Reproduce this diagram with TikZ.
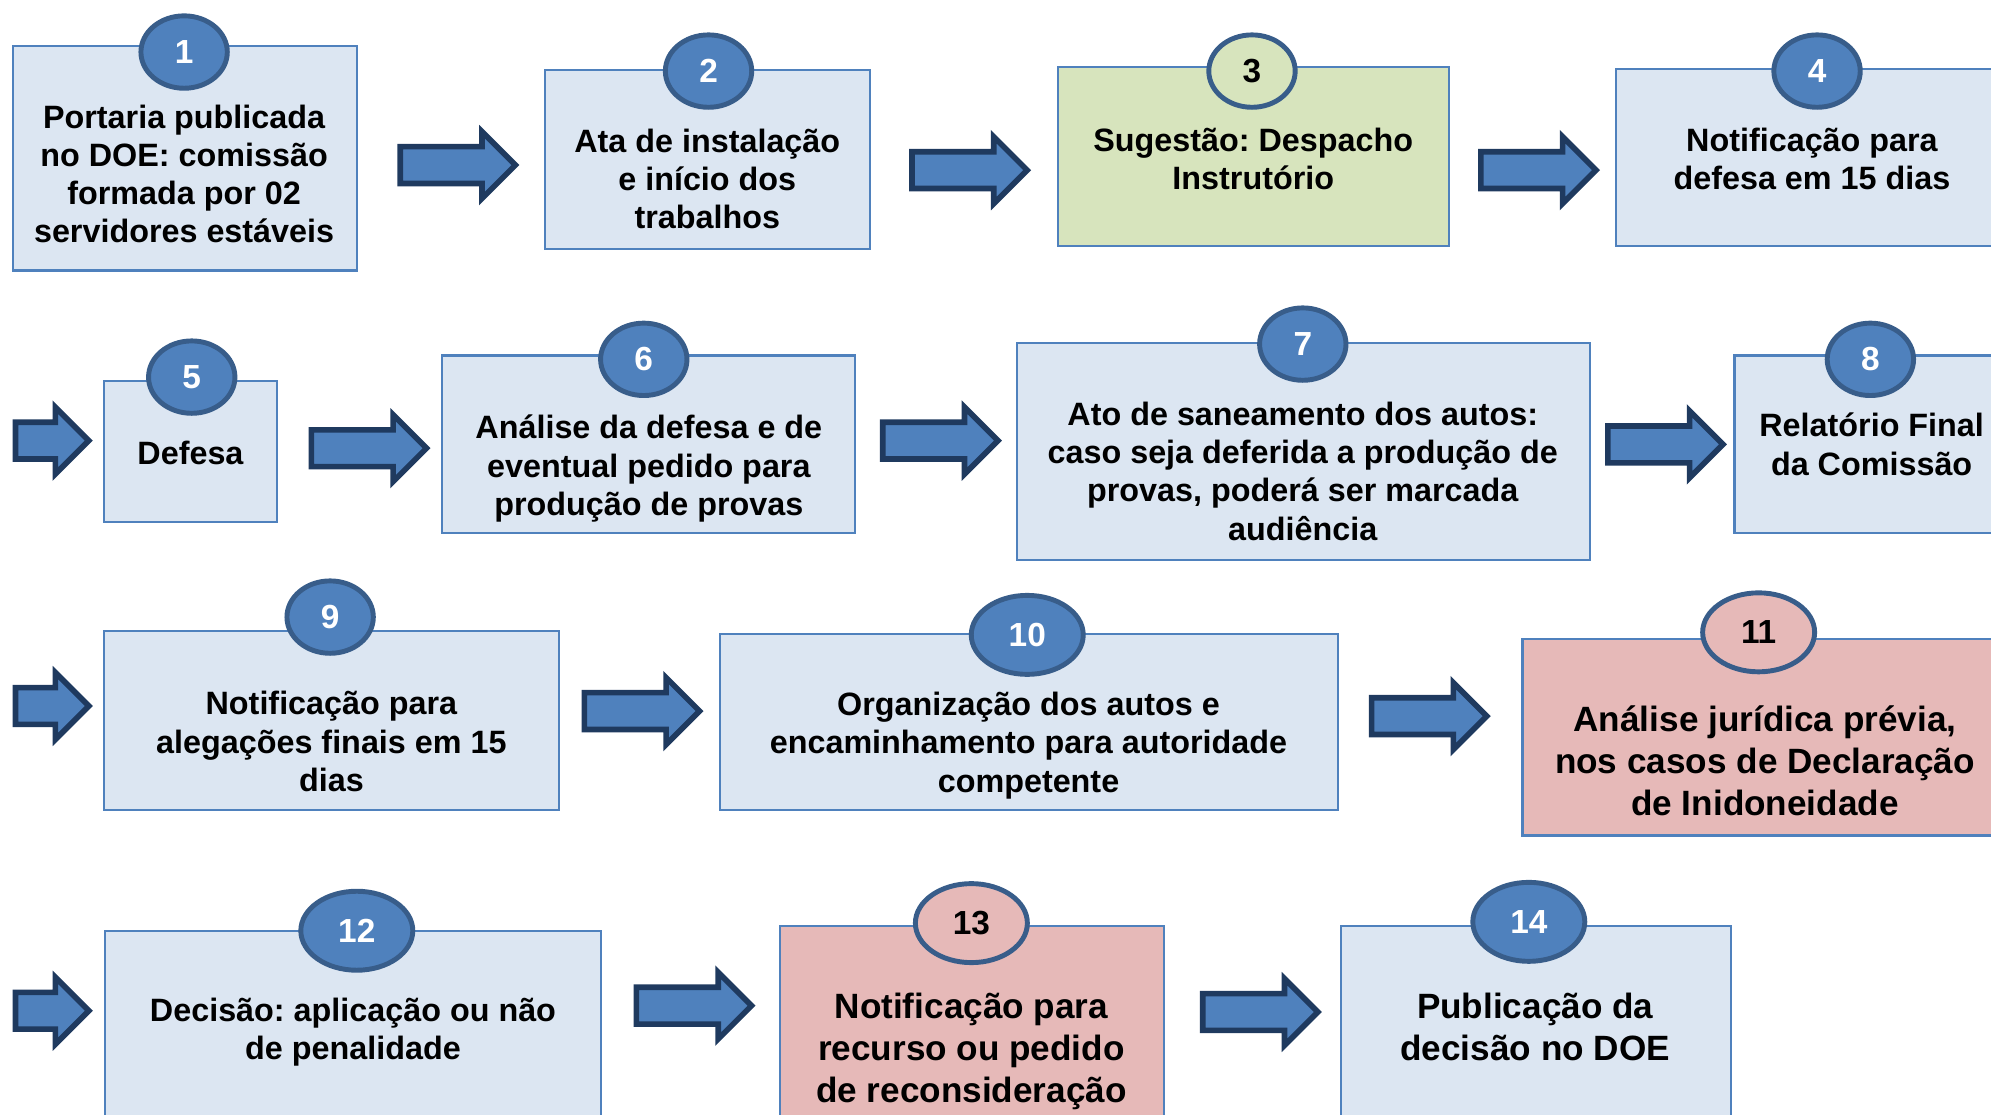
\documentclass[tikz,border=0pt]{standalone}
\usepackage{fontspec}
\setmainfont{Liberation Sans}
\usepackage{xcolor}
\usepackage{tikz}
\usetikzlibrary{shapes.geometric, shapes.arrows, fit, positioning}
\frenchspacing

\definecolor{azulclaro}{HTML}{DCE6F2}
\definecolor{borda}{HTML}{4F81BD}
\definecolor{verde}{HTML}{D7E4BD}
\definecolor{rosa}{HTML}{E6B9B8}
\definecolor{azul}{HTML}{4F81BD}
\definecolor{azulescuro}{HTML}{385D8A}
\definecolor{marinho}{HTML}{1F3A5F}

\begin{document}
\begin{tikzpicture}[x=0.127mm, y=-0.127mm]
  \tikzstyle{caixa}=[draw=borda, fill=azulclaro, line width=0.6pt, inner sep=0]
  \tikzstyle{num}=[ellipse, draw=azulescuro, fill=azul, line width=1.4pt, inner sep=0,
    minimum width=8.64mm, minimum height=7.24mm, text=white,
    font=\fontsize{9.5}{11}\selectfont\bfseries]
  \tikzstyle{numdois}=[num, minimum width=11.2mm, minimum height=7.9mm]
  \tikzstyle{texto}=[align=center, inner sep=0, font=\fontsize{9.2}{10.9}\selectfont\bfseries]
  \tikzstyle{textogrande}=[texto, font=\fontsize{10}{11.9}\selectfont\bfseries]
  \tikzstyle{seta}=[single arrow, draw=marinho, fill=azul, line width=1.6pt,
    inner xsep=0, inner ysep=1.56mm, single arrow head extend=1.5mm,
    minimum height=11.52mm, anchor=tail]
  \tikzstyle{setacurta}=[seta, minimum height=7.33mm]

  \useasboundingbox (0,0) rectangle (1568,878);

  % caixas
  \node[caixa, fit={(10,36) (281,213)}] (1) {};
  \node[caixa, fit={(429,55) (685,196)}] (2) {};
  \node[caixa, fill=verde, fit={(833,53) (1141,194)}] (3) {};
  \node[caixa, fit={(1273,54) (1581,194)}] (4) {};
  \node[caixa, fit={(82,300) (218,411)}] (5) {};
  \node[caixa, fit={(348,280) (673,420)}] (6) {};
  \node[caixa, fit={(801,270) (1252,441)}] (7) {};
  \node[caixa, fit={(1366,280) (1582,420)}] (8) {};
  \node[caixa, fit={(82,497) (440,638)}] (9) {};
  \node[caixa, fit={(567,499) (1054,638)}] (10) {};
  \node[caixa, fill=rosa, fit={(1199,503) (1581,658)}] (11) {};
  \node[caixa, fit={(83,733) (473,895)}] (12) {};
  \node[caixa, fill=rosa, fit={(614,729) (917,895)}] (13) {};
  \node[caixa, fit={(1056,729) (1363,895)}] (14) {};

  % numeros
  \node[num] (n1) at (145,41) {1};
  \node[num] (n2) at (558,56) {2};
  \node[num, fill=verde, text=black] (n3) at (986,56) {3};
  \node[num] (n4) at (1431,56) {4};
  \node[num] (n5) at (151,297) {5};
  \node[num] (n6) at (507,283) {6};
  \node[num] (n7) at (1026,271) {7};
  \node[num] (n8) at (1473,283) {8};
  \node[num] (n9) at (260,486) {9};
  \node[numdois] (n10) at (809,500) {10};
  \node[numdois, fill=rosa, text=black] (n11) at (1385,498) {11};
  \node[numdois] (n12) at (281,733) {12};
  \node[numdois, fill=rosa, text=black] (n13) at (765,727) {13};
  \node[numdois] (n14) at (1204,726) {14};

  % textos
  \node[texto] (t1) at (145,137) {Portaria publicada\\no DOE: comissão\\formada por 02\\servidores estáveis};
  \node[texto] (t2) at (557,141) {Ata de instalação\\e início dos\\trabalhos};
  \node[texto] (t3) at (987,125) {Sugestão: Despacho\\Instrutório};
  \node[texto] (t4) at (1427,125) {Notificação para\\defesa em 15 dias};
  \node[texto] (t5) at (150,357) {Defesa};
  \node[texto] (t6) at (511,369) {Análise da defesa e de\\eventual pedido para\\produção de provas};
  \node[texto] (t7) at (1026,371) {Ato de saneamento dos autos:\\caso seja deferida a produção de\\provas, poderá ser marcada\\audiência};
  \node[texto] (t8) at (1474,350) {Relatório Final\\da Comissão};
  \node[texto] (t9) at (261,584) {Notificação para\\alegações finais em 15\\dias};
  \node[texto] (t10) at (810,587) {Organização dos autos e\\encaminhamento para autoridade\\competente};
  \node[textogrande] (t11) at (1390,599) {Análise jurídica prévia,\\nos casos de Declaração\\de Inidoneidade};
  \node[texto] (t12) at (278,813) {Decisão: aplicação ou não\\de penalidade};
  \node[textogrande] (t13) at (765,828) {Notificação para\\recurso ou pedido\\de reconsideração};
  \node[textogrande] (t14) at (1209,809) {Publicação da\\decisão no DOE};

  % setas
  \node[seta] (s1) at (313,130) {};
  \node[seta] (s2) at (716,134) {};
  \node[seta] (s3) at (1164,134) {};
  \node[setacurta] (s4) at (10,347) {};
  \node[seta] (s5) at (243,353) {};
  \node[seta] (s6) at (693,347) {};
  \node[seta] (s7) at (1264,350) {};
  \node[setacurta] (s8) at (10,556) {};
  \node[seta] (s9) at (458,560) {};
  \node[seta] (s10) at (1078,564) {};
  \node[setacurta] (s11) at (10,796) {};
  \node[seta] (s12) at (499,792) {};
  \node[seta] (s13) at (945,797) {};
\end{tikzpicture}
\end{document}
